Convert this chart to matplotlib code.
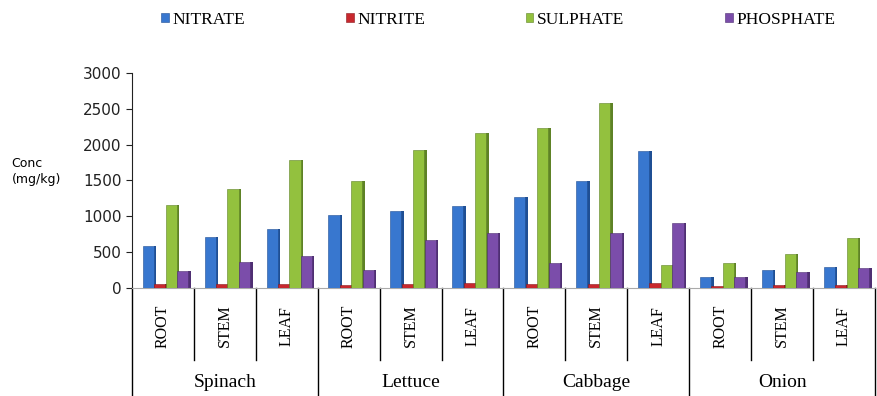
import matplotlib.pyplot as plt
import numpy as np

plants = ['Spinach', 'Lettuce', 'Cabbage', 'Onion']
parts = ['ROOT', 'STEM', 'LEAF']

nitrate = [590, 710, 820, 1020, 1070, 1140, 1270, 1490, 1910, 150, 250, 290]
nitrite = [45, 50, 55, 40, 55, 60, 50, 55, 60, 30, 35, 40]
sulphate = [1150, 1380, 1790, 1490, 1930, 2160, 2240, 2580, 320, 350, 470, 690]
phosphate = [240, 360, 440, 250, 670, 760, 340, 760, 910, 150, 220, 270]

series = [('NITRATE', nitrate, '#3877CF', '#1F4F94'),
          ('NITRITE', nitrite, '#C8282E', '#8A1A1E'),
          ('SULPHATE', sulphate, '#93C13E', '#5E8226'),
          ('PHOSPHATE', phosphate, '#7B4DAA', '#4F2F72')]

serif = ['Liberation Serif', 'DejaVu Serif']

fig = plt.figure(figsize=(8.77, 3.96), dpi=100)
ax = fig.add_axes([0.1505, 0.2735, 0.8472, 0.5415])

x = np.arange(len(plants) * len(parts))
step = 0.185
w = 0.18
side = 0.04
for k, (name, vals, col, dark) in enumerate(series):
    pos = x + (k - 1.5) * step + 0.04
    ax.bar(pos + w / 2, vals, width=side, color=dark, align='edge', zorder=2)
    ax.bar(pos, vals, width=w, color=col, edgecolor=dark, linewidth=0.4,
           label=name, zorder=3)

ax.set_xlim(-0.5, 11.5)
ax.set_ylim(0, 3000)
ax.set_yticks(np.arange(0, 3001, 500))
ax.tick_params(axis='y', labelsize=11, length=4, direction='out', colors='#222222')
ax.tick_params(axis='x', bottom=False, labelbottom=False)
for s in ['top', 'right']:
    ax.spines[s].set_visible(False)
ax.spines['bottom'].set_color('#AAAAAA')
ax.spines['bottom'].set_linewidth(0.8)
ax.spines['left'].set_color('#222222')

ax.text(-0.162, 0.54, 'Conc\n(mg/kg)', transform=ax.transAxes, fontsize=9,
        ha='left', va='center', linespacing=1.3)

# category table under the bars
tr = ax.get_xaxis_transform()
for i in range(len(x) + 1):
    edge = i - 0.5
    low = -0.51 if i % 3 == 0 else -0.336
    ax.plot([edge, edge], [0, low], transform=tr, color='black', lw=1.0,
            clip_on=False)
for i in x:
    ax.text(i, -0.178, parts[i % 3], transform=tr, rotation=90, ha='center',
            va='center', fontsize=11.5, family=serif)
for j, p in enumerate(plants):
    ax.text(j * 3 + 1, -0.444, p, transform=tr, ha='center', va='center',
            fontsize=14, family=serif)

fig.legend(loc='upper center', bbox_to_anchor=(0.568, 1.01), ncol=4,
           frameon=False, prop={'family': serif, 'size': 12.5},
           handlelength=0.45, handleheight=0.4, handletextpad=0.2,
           columnspacing=5.8)

fig.savefig('out.png', dpi=100)
